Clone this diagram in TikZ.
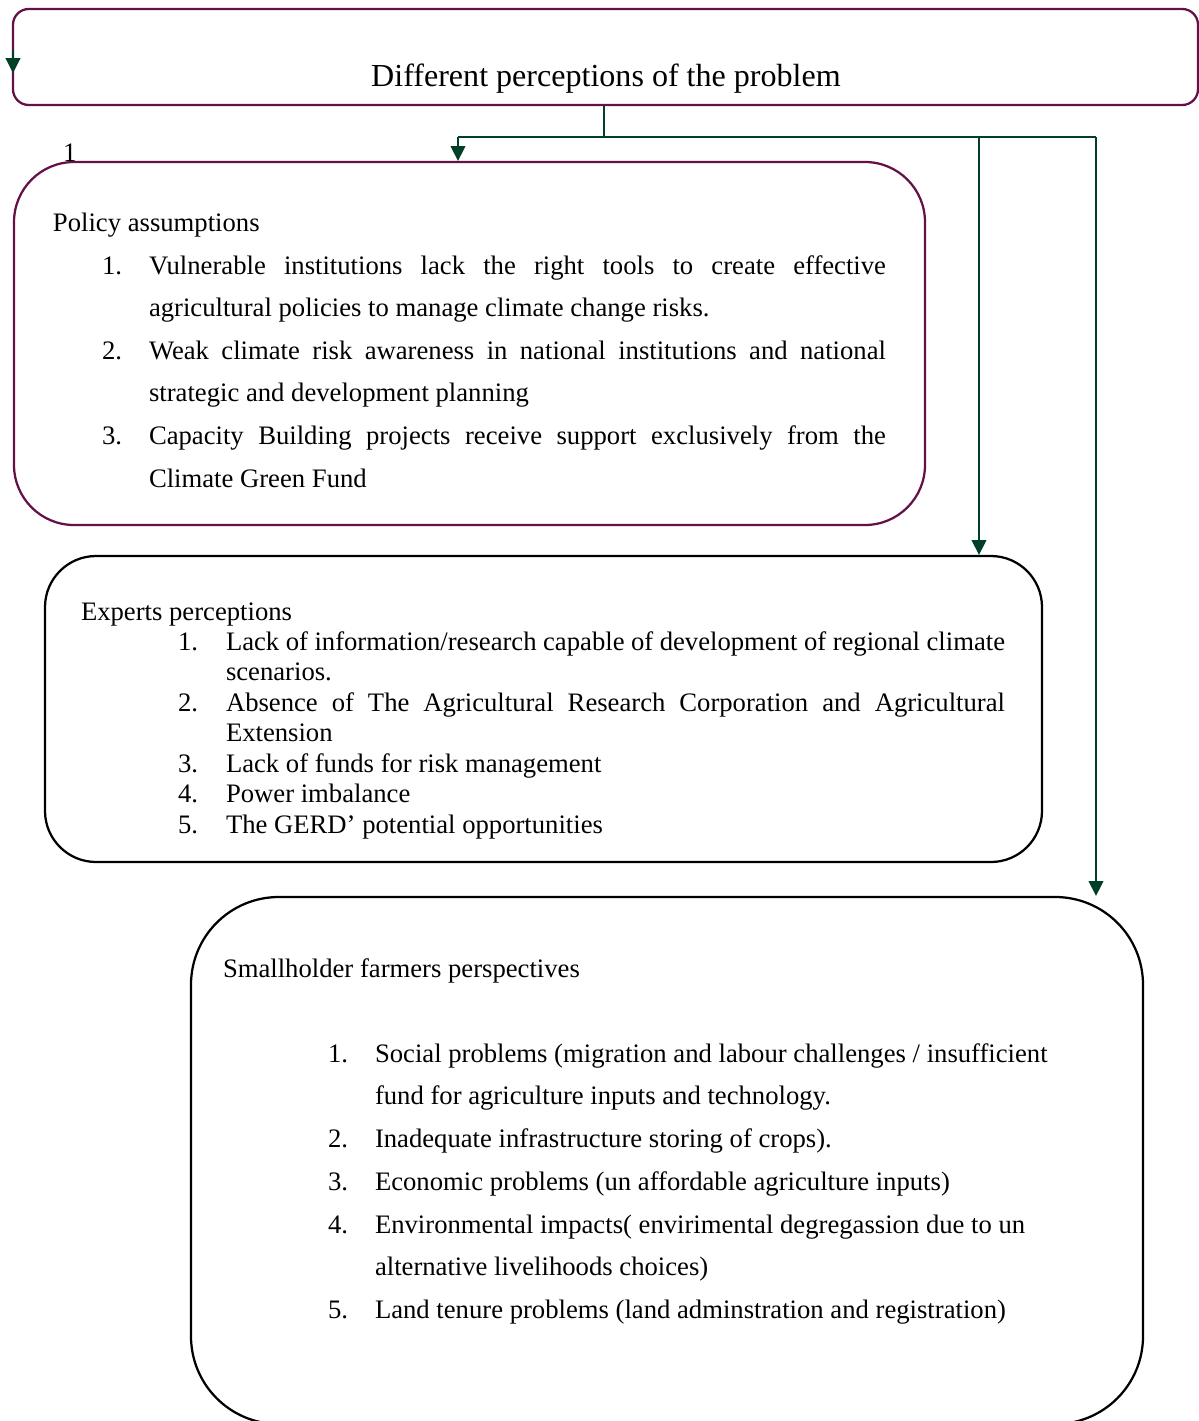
\documentclass[tikz,border=0pt]{standalone}
\usepackage{fontspec}
\setmainfont{Liberation Serif}
\usetikzlibrary{arrows.meta,fit}
\definecolor{boxpurple}{RGB}{102,16,72}
\definecolor{arrgreen}{RGB}{0,64,38}
\tikzset{
  pbox/.style={draw=boxpurple, line width=1pt, inner sep=0pt, fill=none},
  kbox/.style={draw=black, line width=1pt, inner sep=0pt, fill=none},
  conn/.style={draw=arrgreen, line width=0.5pt},
  arr/.style={conn, -{Triangle[width=6.6pt,length=6.6pt]}},
  txt/.style={anchor=base west, inner sep=0pt, outer sep=0pt},
}
\begin{document}
\begin{tikzpicture}[x=0.4444pt, y=-0.4444pt, font=\fontsize{11.85}{14}\selectfont]
\useasboundingbox (0,0) rectangle (1199,1421);
\clip (0,0) rectangle (1199,1421);
\fill[white] (0,0) rectangle (1199,1421);

% boxes
\node[pbox, rounded corners=7pt, fit={(13,9) (1198,105)}] (top) {};
\node[pbox, rounded corners=26.7pt, fit={(14,162) (925,525)}] (policy) {};
\node[kbox, rounded corners=22.7pt, fit={(45,556) (1042,862)}] (experts) {};
\node[kbox, rounded corners=39pt, fit={(191,897) (1143,1424)}] (small) {};

% title
\node[anchor=base, inner sep=0pt, font=\fontsize{14.25}{16}\selectfont] (ttl) at (606,86) {Different perceptions of the problem};

% stray arrow on top box left edge
\coordinate (sa) at (13,50);
\coordinate (sb) at (13,73);
\draw[arr] (sa) -- (sb);

% connectors
\coordinate (j) at (604,137);
\coordinate (jl) at (458,137);
\coordinate (jm) at (979,137);
\coordinate (jr) at (1096,137);
\draw[conn] (top.south -| j) -- (j);
\draw[conn] (jl) -- (jr);
\draw[arr] (jl) -- (jl |- policy.north);
\draw[arr] (jm) -- (jm |- experts.north);
\draw[arr] (jr) -- (jr |- small.north);

% small "1"
\node[txt] (one) at (63,161) {1};

% policy text
\node[txt] (p0) at (53,231) {Policy assumptions};
\node[txt] (p1n) at (102,274) {1.};
\node[txt] (p1a) at (149,274) {\makebox[327.5pt][s]{Vulnerable institutions lack the right tools to create effective}};
\node[txt] (p1b) at (149,316) {agricultural policies to manage climate change risks.};
\node[txt] (p2n) at (102,359) {2.};
\node[txt] (p2a) at (149,359) {\makebox[327.5pt][s]{Weak climate risk awareness in national institutions and national}};
\node[txt] (p2b) at (149,401) {strategic and development planning};
\node[txt] (p3n) at (102,444) {3.};
\node[txt] (p3a) at (149,444) {\makebox[327.5pt][s]{Capacity Building projects receive support exclusively from the}};
\node[txt] (p3b) at (149,487) {Climate Green Fund};

% experts text
\node[txt] (e0) at (81,620) {Experts perceptions};
\node[txt] (e1n) at (178,650) {1.};
\node[txt] (e1a) at (226,650) {\makebox[346.2pt][s]{Lack of information/research capable of development of regional climate}};
\node[txt] (e1b) at (226,680) {scenarios.};
\node[txt] (e2n) at (178,711) {2.};
\node[txt] (e2a) at (226,711) {\makebox[346.2pt][s]{Absence of The Agricultural Research Corporation and Agricultural}};
\node[txt] (e2b) at (226,741) {Extension};
\node[txt] (e3n) at (178,772) {3.};
\node[txt] (e3a) at (226,772) {Lack of funds for risk management};
\node[txt] (e4n) at (178,802) {4.};
\node[txt] (e4a) at (226,802) {Power imbalance};
\node[txt] (e5n) at (178,833) {5.};
\node[txt] (e5a) at (226,833) {The GERD’ potential opportunities};

% smallholder text
\node[txt] (s0) at (223,977) {Smallholder farmers perspectives};
\node[txt] (s1n) at (328,1062) {1.};
\node[txt] (s1a) at (375,1062) {Social problems (migration and labour challenges / insufficient};
\node[txt] (s1b) at (375,1104) {fund for agriculture inputs and technology.};
\node[txt] (s2n) at (328,1147) {2.};
\node[txt] (s2a) at (375,1147) {Inadequate infrastructure storing of crops).};
\node[txt] (s3n) at (328,1190) {3.};
\node[txt] (s3a) at (375,1190) {Economic problems (un affordable agriculture inputs)};
\node[txt] (s4n) at (328,1233) {4.};
\node[txt] (s4a) at (375,1233) {Environmental impacts( envirimental degregassion due to un};
\node[txt] (s4b) at (375,1275) {alternative livelihoods choices)};
\node[txt] (s5n) at (328,1318) {5.};
\node[txt] (s5a) at (375,1318) {Land tenure problems (land adminstration and registration)};
\end{tikzpicture}
\end{document}
